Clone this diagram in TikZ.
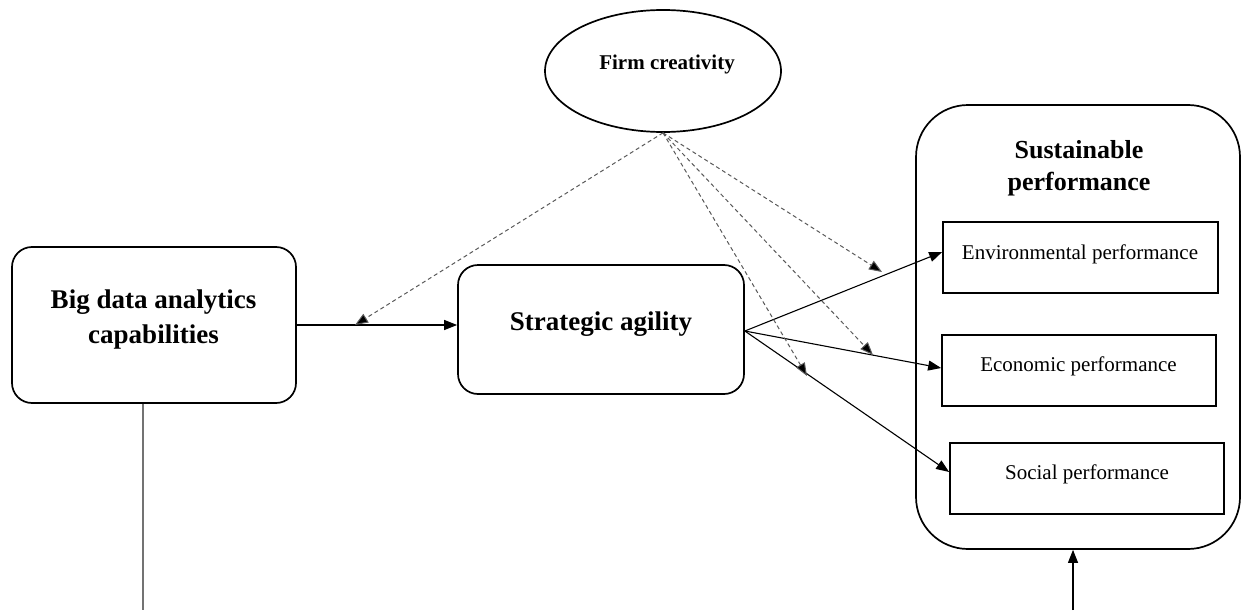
\documentclass[tikz,border=0pt]{standalone}
\usepackage{fontspec}
\setmainfont{Liberation Serif}
\usetikzlibrary{arrows.meta,shapes.geometric}
\tikzset{
  rbox/.style={draw, line width=1.7pt, rounded corners=20pt, inner sep=0pt},
  sbox/.style={draw, line width=1.7pt, inner sep=0pt},
  bigtxt/.style={font=\fontsize{27}{33}\selectfont\bfseries, anchor=base, inner sep=0pt},
  sptxt/.style={font=\fontsize{26}{32}\selectfont\bfseries, anchor=base, inner sep=0pt},
  smalltxt/.style={font=\fontsize{21}{25}\selectfont, anchor=base, inner sep=0pt},
  conn/.style={line width=1.1pt, -{Triangle[length=13pt,width=10pt]}},
  dconn/.style={line width=1pt, draw=black!65, dash pattern=on 4pt off 3pt, -{Triangle[length=13pt,width=10pt,fill=black]}},
}
\begin{document}
\begin{tikzpicture}[x=1pt,y=-1pt]
\useasboundingbox (0,0) rectangle (1241,610);
% boxes
\node[rbox, minimum width=284pt, minimum height=156pt] (bda) at (154,325) {};
\node[bigtxt] (bdat1) at (153.5,308) {Big data analytics};
\node[bigtxt] (bdat2) at (153.5,343) {capabilities};
\node[rbox, minimum width=286pt, minimum height=129pt] (sa) at (601,329.5) {};
\node[bigtxt] (sat) at (601,330) {Strategic agility};
\node[draw, ellipse, line width=1.7pt, minimum width=236pt, minimum height=122pt, inner sep=0pt] (fc) at (663,71) {};
\node[font=\fontsize{21}{25}\selectfont\bfseries, anchor=base, inner sep=0pt] (fct) at (667,70) {Firm creativity};
\node[rbox, rounded corners=52pt, minimum width=324pt, minimum height=444pt] (sp) at (1078,327) {};
\node[sptxt] (spt1) at (1079,158) {Sustainable};
\node[sptxt] (spt2) at (1079,190) {performance};
\node[sbox, minimum width=275pt, minimum height=71pt] (env) at (1080.5,257.5) {};
\node[smalltxt] (envt) at (1080,259) {Environmental performance};
\node[sbox, minimum width=274pt, minimum height=71pt] (eco) at (1079,370.5) {};
\node[smalltxt] (ecot) at (1078.5,371) {Economic performance};
\node[sbox, minimum width=274pt, minimum height=71pt] (soc) at (1087,478.5) {};
\node[smalltxt] (soct) at (1087,479) {Social performance};
% free ends
\coordinate (bot1) at (143,610);
\coordinate (bot2) at (1073,610);
\coordinate (d1) at (355,325);
\coordinate (d2) at (882,272);
\coordinate (d3) at (873,355);
\coordinate (d4) at (807,376);
% connectors
\draw[line width=1.4pt, draw=black!55] ([xshift=-11pt]bda.south) -- (bot1);
\draw[conn] (bda.east) -- (sa.west |- bda.east);
\draw[conn] ([yshift=-1.5pt]sa.east) -- ([yshift=5.5pt]env.west);
\draw[conn] ([yshift=-1.5pt]sa.east) -- ([yshift=2.5pt]eco.west);
\draw[conn] ([yshift=-1.5pt]sa.east) -- ([yshift=6.5pt]soc.west);
\draw[conn] (bot2) -- ([xshift=-5pt]sp.south);
\draw[dconn] (fc.south) -- (d1);
\draw[dconn] (fc.south) -- (d2);
\draw[dconn] (fc.south) -- (d3);
\draw[dconn] (fc.south) -- (d4);
\end{tikzpicture}
\end{document}
